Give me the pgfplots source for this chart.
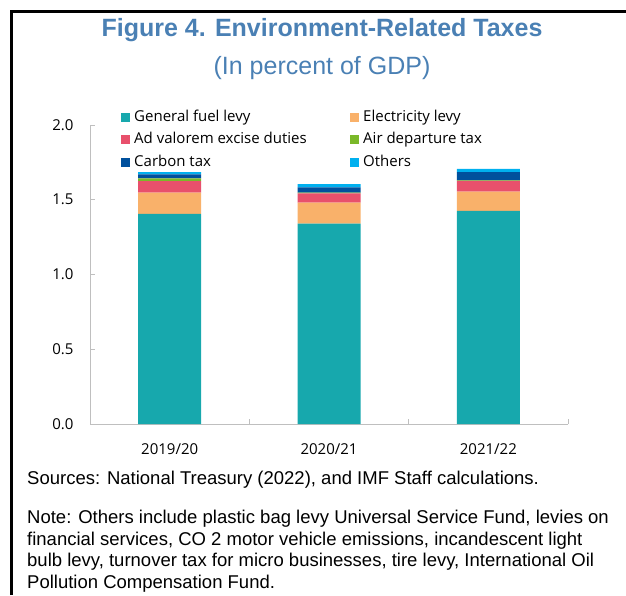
\documentclass[border=0pt]{standalone}
\usepackage{pgfplots}
\pgfplotsset{compat=1.18}
\usepackage{fontspec}
\setmainfont{Open Sans}
\newfontfamily\arialfont{Liberation Sans}
\definecolor{cFuel}{HTML}{17A8AD}
\definecolor{cElec}{HTML}{F9B16A}
\definecolor{cAdv}{HTML}{E8506C}
\definecolor{cAir}{HTML}{7AB829}
\definecolor{cCarbon}{HTML}{00509D}
\definecolor{cOther}{HTML}{00B0EF}
\definecolor{titleblue}{RGB}{74,128,180}
\definecolor{axisgray}{HTML}{BFBFBF}
\begin{document}
\begin{tikzpicture}[x=1pt,y=1pt]
\useasboundingbox (0,0) rectangle (626,595);
\draw[line width=2.6pt] (11.5,0) -- (11.5,583.5) -- (630,583.5);
\node[anchor=base, text=titleblue, font=\arialfont\bfseries\fontsize{25}{28}\selectfont, inner sep=0] at (322,558) {Figure 4. Environment-Related Taxes};
\node[anchor=base, text=titleblue, font=\arialfont\fontsize{25}{28}\selectfont, inner sep=0] at (322,520) {(In percent of GDP)};
\begin{axis}[
  at={(90pt,171pt)}, anchor=south west,
  scale only axis, width=478pt, height=299pt,
  xmin=-0.5, xmax=2.5, ymin=0, ymax=2,
  ybar stacked, bar width=63pt,
  axis x line*=bottom, axis y line*=left,
  axis line style={draw=axisgray, line width=0.8pt, -},
  tick align=inside,
  major tick length=5pt,
  tick style={draw=axisgray, line width=0.8pt},
  xtick={0.5,1.5,2.5}, xticklabels={},
  extra x ticks={0,1,2},
  extra x tick labels={2019/20,2020/21,2021/22},
  extra x tick style={major tick length=0pt},
  xticklabel style={anchor=center, yshift=-25pt},
  ytick={0,0.5,1,1.5,2},
  yticklabel style={anchor=east, xshift=-13pt},
  yticklabel={\pgfmathprintnumber[fixed,fixed zerofill,precision=1]{\tick}},
  /pgf/number format/assume math mode=true,
  ticklabel style={font=\fontsize{15}{18}\selectfont, text=black},
  legend columns=2,
  legend style={at={(0.0649,1.0535)}, anchor=north west, draw=none, fill=none,
    inner sep=0pt, column sep=3pt, row sep=6pt,
    nodes={inner sep=1pt, text height=11pt, text depth=3.5pt, font=\fontsize{15}{18}\selectfont}},
  legend cell align=left,
  legend image code/.code={\fill[#1,draw=none] (0pt,-4.5pt) rectangle (9pt,4.5pt);},
]
\addplot[fill=cFuel, draw=none] coordinates {(0,1.405) (1,1.340) (2,1.425)};
\addplot[fill=cElec, draw=none] coordinates {(0,0.142) (1,0.140) (2,0.130)};
\addplot[fill=cAdv, draw=none] coordinates {(0,0.078) (1,0.063) (2,0.071)};
\addplot[fill=cAir, draw=none] coordinates {(0,0.018) (1,0.004) (2,0.004)};
\addplot[fill=cCarbon, draw=none] coordinates {(0,0.027) (1,0.036) (2,0.054)};
\addplot[fill=cOther, draw=none] coordinates {(0,0.015) (1,0.022) (2,0.023)};
\legend{\makebox[212pt][l]{General fuel levy},Electricity levy,\makebox[212pt][l]{Ad valorem excise duties},Air departure tax,\makebox[212pt][l]{Carbon tax},Others}
\end{axis}
\node[anchor=base west, inner sep=0, font=\arialfont\fontsize{18.5}{22}\selectfont] at (27,111) {Sources: National Treasury (2022), and IMF Staff calculations.};
\node[anchor=north west, inner sep=0, align=left, font=\arialfont\fontsize{18.5}{21.5}\selectfont] at (27,85) {Note: Others include plastic bag levy Universal Service Fund, levies on\\financial services, CO 2 motor vehicle emissions, incandescent light\\bulb levy, turnover tax for micro businesses, tire levy, International Oil\\Pollution Compensation Fund.};
\end{tikzpicture}
\end{document}
